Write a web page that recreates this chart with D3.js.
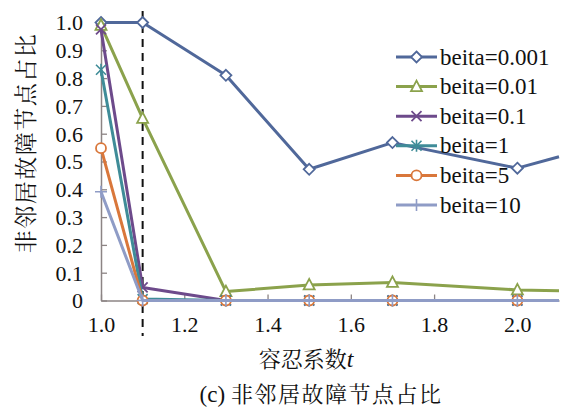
<!DOCTYPE html>
<html>
<head>
<meta charset="utf-8">
<script src="https://cdn.jsdelivr.net/npm/d3@7"></script>
<style>
  html, body { margin: 0; padding: 0; background: #fff; }
  svg { display: block; }
</style>
</head>
<body>
<svg id="chart" width="562" height="407"></svg>
<script>
// Tolerance coefficient t (x values of the sampled points)
const tValues = [1.0, 1.1, 1.3, 1.5, 1.7, 2.0, 2.1];
// Points that carry a marker (the last sample only continues the line)
const markerCount = 6;

// Share of non-neighbour failed nodes, one array per beita
const beita0001 = [1.0, 1.0, 0.81, 0.472, 0.568, 0.476, 0.517];
const beita001  = [0.99, 0.655, 0.032, 0.056, 0.065, 0.038, 0.035];
const beita01   = [0.975, 0.047, 0.0, 0.0, 0.0, 0.0, 0.0];
const beita1    = [0.83, 0.005, 0.0, 0.0, 0.0, 0.0, 0.0];
const beita5    = [0.548, 0.0, 0.0, 0.0, 0.0, 0.0, 0.0];
const beita10   = [0.391, 0.0, 0.0, 0.0, 0.0, 0.0, 0.0];

const seriesNames = ["beita=0.001", "beita=0.01", "beita=0.1", "beita=1", "beita=5", "beita=10"];
const seriesValues = [beita0001, beita001, beita01, beita1, beita5, beita10];
const seriesColors = ["#50689a", "#8ba24c", "#6d4a8b", "#3f8c98", "#d9773b", "#8f9cc6"];
const seriesMarkers = ["diamond", "triangle", "cross", "asterisk", "circle", "plus"];

const xTicks = [1.0, 1.2, 1.4, 1.6, 1.8, 2.0];
const xTickLabels = ["1.0", "1.2", "1.4", "1.6", "1.8", "2.0"];
const yTicks = [0, 0.1, 0.2, 0.3, 0.4, 0.5, 0.6, 0.7, 0.8, 0.9, 1.0];
const yTickLabels = ["0", "0.1", "0.2", "0.3", "0.4", "0.5", "0.6", "0.7", "0.8", "0.9", "1.0"];
const thresholdT = 1.1;

const SERIF = "'Liberation Serif'";
const CJK = "'Noto Serif CJK SC'";

const svg = d3.select("#chart");

const x = d3.scaleLinear().domain([1.0, 2.1]).range([101, 559]);
const y = d3.scaleLinear().domain([0, 1.0]).range([300.5, 22.5]);

const axisColor = "#8c8484";

// Y axis with inward ticks
const yAxis = svg.append("g")
  .attr("transform", `translate(${x(1.0)},0)`)
  .call(d3.axisLeft(y).tickValues(yTicks).tickSizeInner(-6).tickSizeOuter(0)
        .tickFormat((d, i) => yTickLabels[i]));
yAxis.attr("font-family", null).attr("font-size", null);
yAxis.select(".domain").attr("stroke", axisColor).attr("stroke-width", 1.5);
yAxis.selectAll(".tick line").attr("stroke", axisColor).attr("stroke-width", 1.3);
yAxis.selectAll(".tick text")
  .attr("x", -18)
  .attr("dy", "0.34em")
  .attr("fill", "#111")
  .style("font-family", SERIF)
  .style("font-size", "22px");

// X axis with inward ticks
const xAxis = svg.append("g")
  .attr("transform", `translate(0,${y(0)})`)
  .call(d3.axisBottom(x).tickValues(xTicks).tickSizeInner(-6).tickSizeOuter(0)
        .tickFormat((d, i) => xTickLabels[i]));
xAxis.attr("font-family", null).attr("font-size", null);
xAxis.select(".domain").attr("stroke", axisColor).attr("stroke-width", 1.5);
xAxis.selectAll(".tick line").attr("stroke", axisColor).attr("stroke-width", 1.3);
xAxis.selectAll(".tick text")
  .attr("y", 31.5)
  .attr("dy", 0)
  .attr("fill", "#111")
  .style("font-family", SERIF)
  .style("font-size", "22px");

// Dashed threshold line at t = 1.1
svg.append("line")
  .attr("x1", x(thresholdT)).attr("x2", x(thresholdT))
  .attr("y1", 11).attr("y2", 336)
  .attr("stroke", "#111").attr("stroke-width", 2)
  .attr("stroke-dasharray", "8,6");

// Marker symbols
function drawMarker(g, type, color, cx, cy) {
  const s = g.append("g").attr("transform", `translate(${cx},${cy})`);
  const st = (sel) => sel.attr("stroke", color).attr("stroke-width", 1.8).attr("fill", "#fff");
  if (type === "diamond") {
    st(s.append("path").attr("d", "M0,-5.5L5.5,0L0,5.5L-5.5,0Z"));
  } else if (type === "triangle") {
    st(s.append("path").attr("d", "M0,-6L5.5,4.5L-5.5,4.5Z"));
  } else if (type === "circle") {
    st(s.append("circle").attr("r", 5));
  } else if (type === "cross") {
    s.append("path").attr("d", "M-5,-5L5,5M-5,5L5,-5")
      .attr("stroke", color).attr("stroke-width", 1.8).attr("fill", "none");
  } else if (type === "asterisk") {
    s.append("path").attr("d", "M-5,-5L5,5M-5,5L5,-5M0,-6L0,6")
      .attr("stroke", color).attr("stroke-width", 1.6).attr("fill", "none");
  } else if (type === "plus") {
    s.append("path").attr("d", "M0,-6L0,6M-6,0L6,0")
      .attr("stroke", color).attr("stroke-width", 1.6).attr("fill", "none");
  }
}

const line = d3.line().x(d => x(d[0])).y(d => y(d[1]));

const plot = svg.append("g");
seriesValues.forEach((vals, i) => {
  const pts = tValues.map((t, j) => [t, vals[j]]);
  plot.append("path")
    .datum(pts)
    .attr("d", line)
    .attr("fill", "none")
    .attr("stroke", seriesColors[i])
    .attr("stroke-width", 3)
    .attr("stroke-linejoin", "round");
  pts.slice(0, markerCount).forEach(p => {
    drawMarker(plot, seriesMarkers[i], seriesColors[i], x(p[0]), y(p[1]));
  });
});

// Legend
const legend = svg.append("g");
seriesNames.forEach((name, i) => {
  const ly = 57 + i * 29.6;
  legend.append("line")
    .attr("x1", 396).attr("x2", 437).attr("y1", ly).attr("y2", ly)
    .attr("stroke", seriesColors[i]).attr("stroke-width", 3);
  drawMarker(legend, seriesMarkers[i], seriesColors[i], 416.5, ly);
  legend.append("text")
    .attr("x", 440).attr("y", ly + 7.5)
    .attr("fill", "#111")
    .style("font-family", SERIF)
    .style("font-size", "23px")
    .text(name);
});

// Axis titles and caption
svg.append("text")
  .attr("transform", "translate(34,143) rotate(-90)")
  .attr("text-anchor", "middle")
  .style("font-family", CJK)
  .style("font-size", "23px")
  .style("letter-spacing", "1.5px")
  .attr("fill", "#111")
  .text("非邻居故障节点占比");

const xt = svg.append("text")
  .attr("x", 306).attr("y", 367)
  .attr("text-anchor", "middle")
  .style("font-family", CJK)
  .style("font-size", "22px")
  .attr("fill", "#111");
xt.append("tspan").text("容忍系数");
xt.append("tspan")
  .style("font-family", SERIF)
  .style("font-style", "italic")
  .style("font-size", "24px")
  .text("t");

const cap = svg.append("text")
  .attr("x", 321).attr("y", 402)
  .attr("text-anchor", "middle")
  .style("font-family", CJK)
  .style("font-size", "22px")
  .attr("fill", "#111");
cap.append("tspan")
  .style("font-family", SERIF)
  .style("font-size", "23px")
  .text("(c) ");
cap.append("tspan")
  .style("letter-spacing", "1.5px")
  .text("非邻居故障节点占比");
</script>
</body>
</html>
